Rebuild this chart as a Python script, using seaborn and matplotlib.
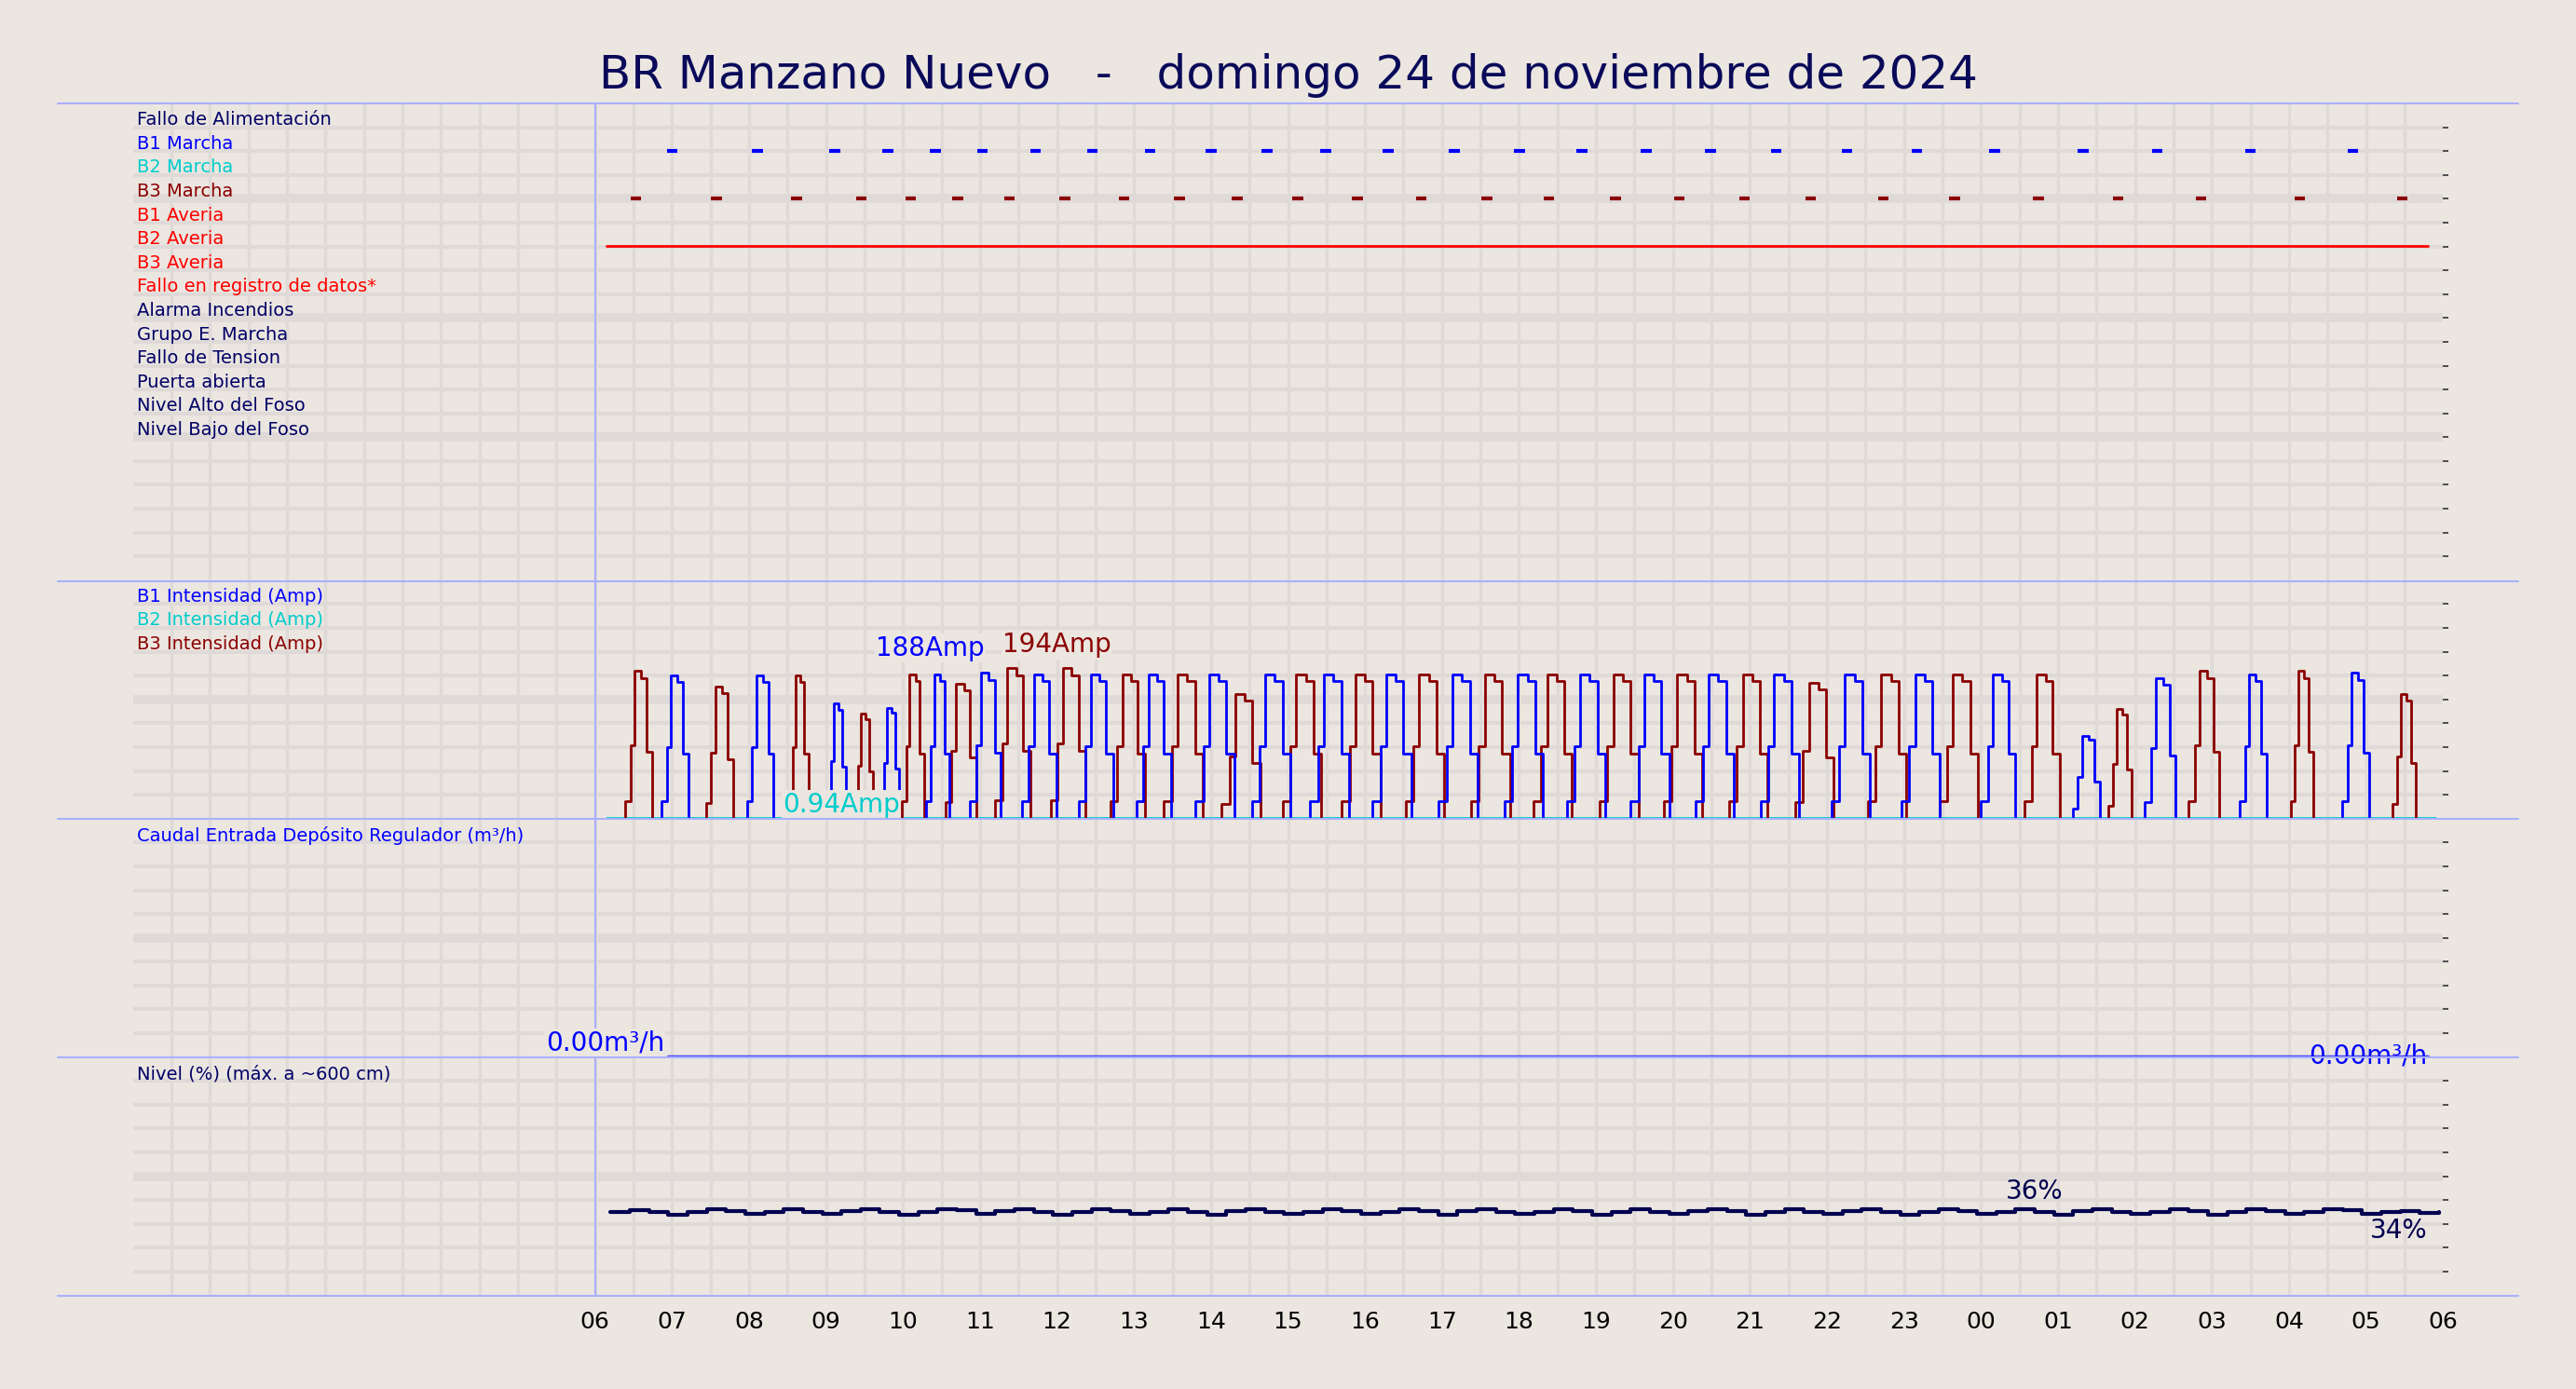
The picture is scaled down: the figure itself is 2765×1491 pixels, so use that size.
import numpy as np
import pandas as pd
import matplotlib
matplotlib.use("Agg")
import matplotlib.pyplot as plt
from matplotlib.lines import Line2D
import seaborn as sns

# ---------------- data ----------------
title = "BR Manzano Nuevo   -   domingo 24 de noviembre de 2024"
row_labels = ["Fallo de Alimentación", "B1 Marcha", "B2 Marcha", "B3 Marcha", "B1 Averia",
              "B2 Averia", "B3 Averia", "Fallo en registro de datos*", "Alarma Incendios",
              "Grupo E. Marcha", "Fallo de Tension", "Puerta abierta", "Nivel Alto del Foso",
              "Nivel Bajo del Foso"]
row_colors = ["#000066", "#0000ff", "#00cccc", "#8b0000", "#ff0000", "#ff0000", "#ff0000",
              "#ff0000", "#000066", "#000066", "#000066", "#000066", "#000066", "#000066"]
tick_labels = ["06", "07", "08", "09", "10", "11", "12", "13", "14", "15", "16", "17", "18",
               "19", "20", "21", "22", "23", "00", "01", "02", "03", "04", "05", "06"]

b1_marcha = [7.00, 8.11, 9.11, 9.80, 10.42, 11.03, 11.72, 12.46, 13.21, 14.00, 14.73, 15.49,
             16.30, 17.16, 18.01, 18.82, 19.65, 20.49, 21.34, 22.26, 23.17, 24.18, 25.33,
             26.29, 27.50, 28.83]
b3_marcha = [6.53, 7.58, 8.62, 9.46, 10.10, 10.71, 11.38, 12.10, 12.87, 13.59, 14.34, 15.13,
             15.90, 16.73, 17.58, 18.39, 19.25, 20.08, 20.93, 21.79, 22.73, 23.66, 24.75,
             25.78, 26.86, 28.14, 29.47]
b1_dur = [0.35, 0.35, 0.25, 0.25, 0.30, 0.40, 0.45, 0.45, 0.45, 0.50, 0.50, 0.50, 0.50, 0.50,
          0.50, 0.50, 0.50, 0.50, 0.50, 0.50, 0.50, 0.45, 0.35, 0.40, 0.35, 0.35]
b1_peak = [185, 185, 148, 143, 186, 188, 186, 186, 186, 186, 186, 186, 186, 186, 186, 186,
           186, 186, 186, 186, 186, 186, 107, 181, 186, 188]
b3_dur = [0.35, 0.35, 0.25, 0.25, 0.30, 0.40, 0.45, 0.45, 0.45, 0.50, 0.50, 0.50, 0.50, 0.50,
          0.50, 0.50, 0.50, 0.50, 0.50, 0.50, 0.50, 0.50, 0.45, 0.30, 0.40, 0.30, 0.30]
b3_peak = [190, 170, 185, 135, 186, 174, 194, 194, 186, 186, 160, 186, 186, 186, 186, 186,
           186, 186, 186, 175, 186, 186, 186, 141, 190, 190, 160]
shape_t = [0.0, 0.2, 0.35, 0.6, 0.8, 1.0]
shape_v = [0.12, 0.5, 1.0, 0.95, 0.45, 0.0]

level_t0 = 6.2
level_vals = [35, 35.6, 35, 33.9, 35, 36, 35.4, 34.3, 35, 36, 35, 34.1, 35.4, 36.2, 35, 33.9,
              35, 36, 35.6, 34.1, 35.2, 36.2, 35, 33.9, 35, 36, 35.4, 34.3, 35, 36.2, 35,
              33.9, 35.4, 36, 35, 34.1, 35, 36.2, 35.4, 34.1, 35, 36, 35.2, 33.9, 35.2, 36.2,
              35, 34.3, 35, 36, 35.4, 33.9, 35, 36.2, 35, 34.1, 35.2, 36, 35.4, 33.9, 35,
              36.2, 35, 34.1, 35.4, 36, 35, 33.9, 35, 36.2, 35.4, 34.3, 35, 36, 35, 33.9,
              35.4, 36.2, 35, 34.1, 35, 36, 35.4, 33.9, 35, 36.2, 35.2, 34.1, 35, 36, 35.8,
              34.1, 35, 35.4, 34.6, 35]
level_dt = 0.25

# ---------------- style ----------------
bg = "#ebe6e0"
gridc = "#dfdad7"
sns.set_theme(style="white")
plt.rcParams["font.family"] = ["DejaVu Sans"]
fig = plt.figure(figsize=(27.65, 14.91), dpi=100, facecolor=bg)
L, R = 81 / 1568, 1487 / 1568
T, B = 1 - 63 / 846, 1 - 789 / 846
gs = fig.add_gridspec(4, 1, height_ratios=[2, 1, 1, 1], hspace=0, left=L, right=R, top=T, bottom=B)
axes = [fig.add_subplot(gs[i]) for i in range(4)]

def style(ax, ylim, nrows, thick_rows=()):
    ax.set_facecolor(bg)
    ax.set_xlim(0, 30)
    ax.set_ylim(*ylim)
    for s in ax.spines.values():
        s.set_visible(False)
    for xv in np.arange(0.5, 30, 0.5):
        ax.axvline(xv, color=gridc, lw=2.5, zorder=0)
    lo, hi = min(ylim), max(ylim)
    step = (hi - lo) / nrows
    ys = [lo + step * k for k in range(1, nrows)]
    for k, yv in enumerate(ys):
        ax.axhline(yv, color=gridc, lw=7 if k in thick_rows else 3, zorder=0)
    ax.set_yticks(ys)
    ax.yaxis.tick_right()
    ax.tick_params(axis="y", length=4, width=1.2, labelright=False, color="#333333", direction="out")
    ax.set_xticks([])

# --- top: digital signals
ax = axes[0]
style(ax, (19.31, -0.69), 20, thick_rows=(3, 8, 13))
for i, (lab, c) in enumerate(zip(row_labels, row_colors)):
    ax.text(0.05, i, lab, color=c, fontsize=14, va="center", ha="left")
ax.hlines([1.3] * len(b1_marcha), np.array(b1_marcha) - 0.07, np.array(b1_marcha) + 0.07,
          color="#0000ff", lw=3)
ax.hlines([3.3] * len(b3_marcha), np.array(b3_marcha) - 0.07, np.array(b3_marcha) + 0.07,
          color="#8b0000", lw=3)
sns.lineplot(x=[6.15, 29.8], y=[5.3, 5.3], color="#ff0000", lw=2, ax=ax)

# --- intensities
def pulses(starts, durs, peaks):
    ts, vs = [6.15], [0]
    for s, d, p in zip(starts, durs, peaks):
        s0 = s - 0.4 * d
        for ft, fv in zip(shape_t, shape_v):
            ts.append(s0 + ft * d)
            vs.append(fv * p)
    ts.append(29.9); vs.append(0)
    return pd.DataFrame({"t": ts, "v": vs})

ax = axes[1]
style(ax, (0, 307), 10, thick_rows=(4,))
for i, (lab, c) in enumerate([("B1 Intensidad (Amp)", "#0000ff"), ("B2 Intensidad (Amp)", "#00cccc"),
                              ("B3 Intensidad (Amp)", "#8b0000")]):
    ax.text(0.05, 286 - i * 30.5, lab, color=c, fontsize=14, va="center")
sns.lineplot(x=[6.15, 29.9], y=[0.94, 0.94], color="#00cccc", lw=2, ax=ax)
d1 = pulses(b1_marcha, b1_dur, b1_peak)
d3 = pulses(b3_marcha, b3_dur, b3_peak)
ax.plot(d3["t"], d3["v"], drawstyle="steps-post", color="#8b0000", lw=2)
ax.plot(d1["t"], d1["v"], drawstyle="steps-post", color="#0000ff", lw=2)
ax.text(10.35, 203, "188Amp", color="#0000ff", fontsize=20, ha="center", va="bottom",
        bbox=dict(fc=bg, ec="none", pad=1))
ax.text(12.0, 207, "194Amp", color="#8b0000", fontsize=20, ha="center", va="bottom",
        bbox=dict(fc=bg, ec="none", pad=1))
ax.text(9.2, 18, "0.94Amp", color="#00cccc", fontsize=20, ha="center", va="center",
        bbox=dict(fc=bg, ec="none", pad=1))
ax.text(29.8, -10, "0.00Amp", color="#8b0000", fontsize=20, ha="right", va="top")

# --- caudal
ax = axes[2]
style(ax, (0, 100), 10, thick_rows=(4,))
ax.text(0.05, 93, "Caudal Entrada Depósito Regulador (m³/h)", color="#0000ff", fontsize=14, va="center")
sns.lineplot(x=[6.95, 29.8], y=[0.3, 0.3], color="#4444ff", lw=2.5, ax=ax)
ax.text(6.9, 6, "0.00m³/h", color="#0000ff", fontsize=20, ha="right", va="center",
        bbox=dict(fc=bg, ec="none", pad=1))

# --- nivel
ax = axes[3]
style(ax, (0, 100), 10, thick_rows=(4,))
ax.text(0.05, 93, "Nivel (%) (máx. a ~600 cm)", color="#000066", fontsize=14, va="center")
lt = level_t0 + level_dt * np.arange(len(level_vals))
ax.plot(lt, level_vals, drawstyle="steps-post", color="#000050", lw=3)
ax.text(24.7, 38, "36%", color="#000050", fontsize=20, ha="center", va="bottom")
ax.text(29.8, 27, "34%", color="#000050", fontsize=20, ha="right", va="center")
ax.text(29.8, 106, "0.00m³/h", color="#0000ff", fontsize=20, ha="right", va="top", clip_on=False)
ax.set_xticks(np.arange(6, 31, 1))
ax.set_xticklabels(tick_labels, fontsize=18)
ax.tick_params(axis="x", length=0, pad=12, labelcolor="black")

for a in axes:
    a.axvline(6, color="#aab0ff", lw=1.5, zorder=1)

# separators
for yd in [63, 354, 499, 644, 789]:
    yf = 1 - yd / 846
    fig.add_artist(Line2D([35 / 1568, 1533 / 1568], [yf, yf], color="#aab0ff", lw=1.5))

fig.suptitle(title, fontsize=36, color="#0a0a5a", y=1 - 46 / 846, va="center")
fig.savefig("out.png", dpi=100, facecolor=bg)
